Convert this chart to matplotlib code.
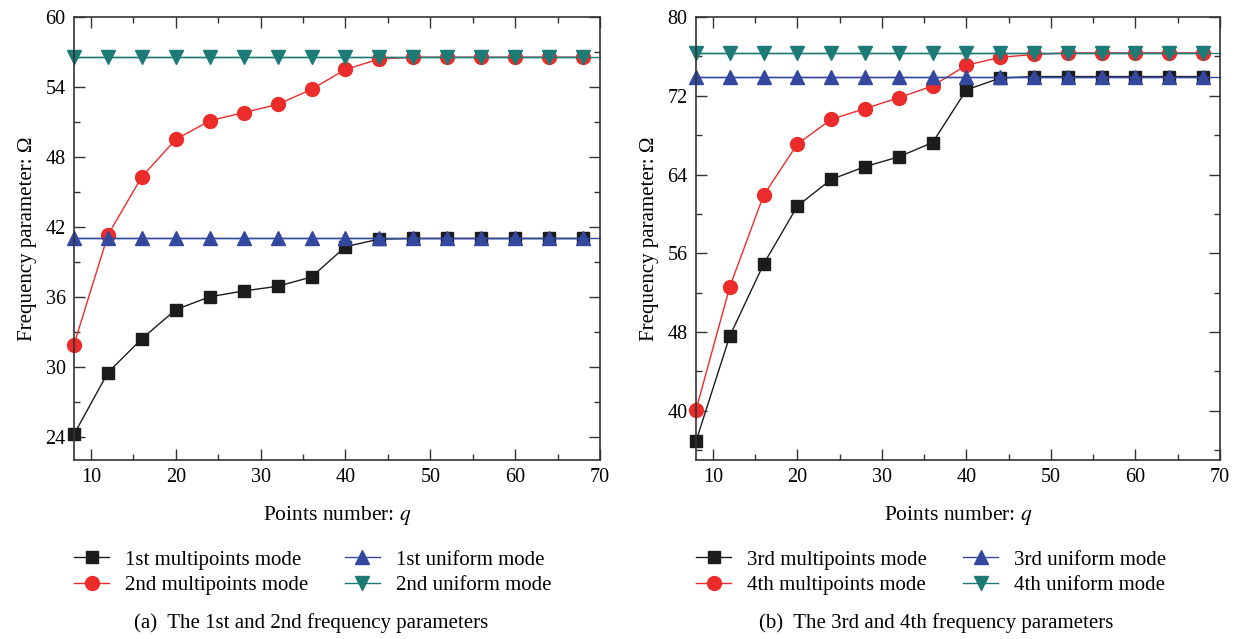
import numpy as np
import matplotlib
matplotlib.use("Agg")
import matplotlib.pyplot as plt
from matplotlib.ticker import MultipleLocator

plt.rcParams['font.family'] = ['Liberation Serif', 'DejaVu Serif']
plt.rcParams['mathtext.fontset'] = 'stix'

q = [8, 12, 16, 20, 24, 28, 32, 36, 40, 44, 48, 52, 56, 60, 64, 68]

# (a) 1st and 2nd frequency parameters
multi_1st = [24.2, 29.5, 32.4, 34.9, 36.0, 36.5, 36.9, 37.7, 40.3, 40.95,
             41.0, 41.0, 41.0, 41.0, 41.0, 41.0]
multi_2nd = [31.9, 41.3, 46.3, 49.5, 51.1, 51.8, 52.5, 53.8, 55.5, 56.4,
             56.55, 56.55, 56.55, 56.55, 56.55, 56.55]
uniform_1st = 41.0
uniform_2nd = 56.55

# (b) 3rd and 4th frequency parameters
multi_3rd = [36.9, 47.6, 54.9, 60.8, 63.5, 64.8, 65.8, 67.25, 72.6, 73.8,
             73.95, 73.95, 73.95, 73.95, 73.95, 73.95]
multi_4th = [40.1, 52.6, 61.9, 67.1, 69.6, 70.7, 71.8, 73.0, 75.1, 75.9,
             76.2, 76.35, 76.35, 76.35, 76.35, 76.35]
uniform_3rd = 73.95
uniform_4th = 76.35

BLACK = '#1c1c1c'
RED = '#ec2c2a'
BLUE = '#3548a0'
TEAL = '#1c7a77'

fig = plt.figure(figsize=(12.37, 6.39), dpi=100)
axa = fig.add_axes([74 / 1237, 179 / 639, 526 / 1237, 443 / 639])
axb = fig.add_axes([696 / 1237, 179 / 639, 524 / 1237, 443 / 639])


def draw(ax, m1, m2, u1, u2, names, ylim, ymajor, caption, cap_x):
    n = len(q)
    ax.plot(q, m1, color=BLACK, lw=1.0, marker='s', ms=9, label=names[0])
    ax.plot(q, m2, color=RED, lw=1.0, marker='o', ms=10, label=names[1])
    ax.axhline(u1, color=BLUE, lw=1.0)
    ax.axhline(u2, color=TEAL, lw=1.0)
    ax.plot(q, [u1] * n, color=BLUE, lw=1.0, marker='^', ms=10.5, label=names[2])
    ax.plot(q, [u2] * n, color=TEAL, lw=1.0, marker='v', ms=10.5, label=names[3])
    for m in ax.lines:
        m.set_clip_on(False)
    ax.set_xlim(8, 70)
    ax.set_ylim(*ylim)
    ax.xaxis.set_major_locator(MultipleLocator(10))
    ax.xaxis.set_minor_locator(MultipleLocator(5))
    ax.yaxis.set_major_locator(MultipleLocator(ymajor))
    ax.yaxis.set_minor_locator(MultipleLocator(ymajor / 2))
    ax.tick_params(which='both', direction='in', top=True, right=True,
                   labelsize=14.5, width=1.0, color='#333333')
    ax.tick_params(which='major', length=8, pad=6)
    ax.tick_params(which='minor', length=4)
    for s in ax.spines.values():
        s.set_linewidth(1.2)
        s.set_color('#333333')
    ax.set_xlabel('Points number: $q$', fontsize=15.5, labelpad=12)
    ax.set_ylabel('Frequency parameter: Ω', fontsize=15, labelpad=6)
    ax.legend(loc='upper left', bbox_to_anchor=(0.0, -0.203), ncol=2,
              frameon=False, fontsize=15, handlelength=1.68,
              handletextpad=0.77, columnspacing=1.75, labelspacing=0.3,
              borderpad=0, borderaxespad=0)
    ax.text(cap_x, -0.368, caption, transform=ax.transAxes, ha='center',
            va='center', fontsize=15)


draw(axa, multi_1st, multi_2nd, uniform_1st, uniform_2nd,
     ['1st multipoints mode', '2nd multipoints mode',
      '1st uniform mode', '2nd uniform mode'],
     (22, 60), 6, '(a)  The 1st and 2nd frequency parameters', 0.4515)
draw(axb, multi_3rd, multi_4th, uniform_3rd, uniform_4th,
     ['3rd multipoints mode', '4th multipoints mode',
      '3rd uniform mode', '4th uniform mode'],
     (35, 80), 8, '(b)  The 3rd and 4th frequency parameters', 0.458)

fig.savefig('out.png', dpi=100)
